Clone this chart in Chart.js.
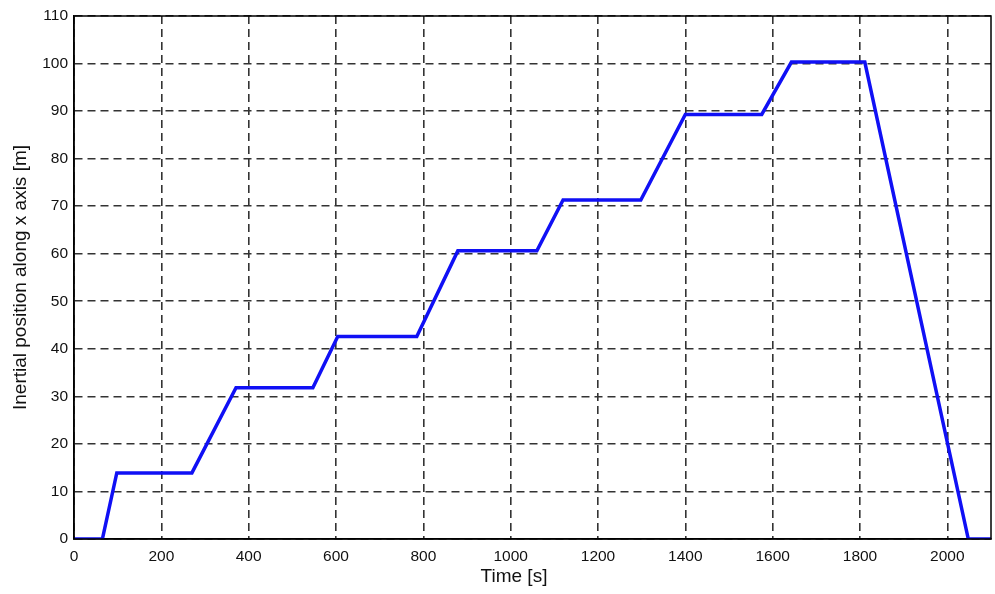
<!DOCTYPE html>
<html>
<head>
<meta charset="utf-8">
<script src="https://cdn.jsdelivr.net/npm/chart.js@4/dist/chart.umd.min.js"></script>
<style>
    html, body { margin: 0; padding: 0; background: #fff; }
    #wrap { width: 995px; height: 594px; }
</style>
</head>
<body>
<div id="wrap"><canvas id="posChart" width="995" height="594"></canvas></div>
<script>
    // values
    var timeS = [0, 65, 98, 270, 371, 547, 604, 785, 879, 1060, 1120, 1298, 1400, 1575, 1643, 1811, 2048, 2100];
    var posM  = [0, 0, 13.9, 13.9, 31.8, 31.8, 42.6, 42.6, 60.6, 60.6, 71.3, 71.3, 89.3, 89.3, 100.3, 100.3, 0, 0];
    var xTicks = [0, 200, 400, 600, 800, 1000, 1200, 1400, 1600, 1800, 2000];
    var yTicks = [0, 10, 20, 30, 40, 50, 60, 70, 80, 90, 100, 110];
    var xTitle = 'Time [s]';
    var yTitle = 'Inertial position along x axis [m]';

    var points = [];
    for (var i = 0; i < timeS.length; i++) {
        points.push({x: timeS[i], y: posM[i]});
    }

    var gridColor = '#333';
    var tickFont = { family: '"Liberation Sans", Arial, sans-serif', size: 15.5 };

    // frame round the plot area + axis titles
    var framePlugin = {
        id: 'frame',
        afterDraw: function (chart) {
            var ctx = chart.ctx;
            var a = chart.chartArea;
            ctx.save();
            ctx.strokeStyle = '#000';
            ctx.lineWidth = 1.5;
            ctx.strokeRect(a.left, a.top, a.right - a.left, a.bottom - a.top);

            ctx.fillStyle = '#111';
            ctx.font = '19px "Liberation Sans", Arial, sans-serif';
            ctx.textAlign = 'center';
            ctx.textBaseline = 'middle';
            ctx.fillText(xTitle, 514, 577);
            ctx.translate(21, (a.top + a.bottom) / 2);
            ctx.rotate(-Math.PI / 2);
            ctx.fillText(yTitle, 0, 0);
            ctx.restore();
        }
    };

    var posChart = new Chart(document.getElementById('posChart').getContext('2d'), {
        type: 'line',
        data: {
            datasets: [{
                data: points,
                borderColor: '#1010f5',
                borderWidth: 3.5,
                pointRadius: 0,
                fill: false,
                tension: 0
            }]
        },
        options: {
            responsive: false,
            animation: false,
            layout: { padding: { top: 16, right: 4, left: 0, bottom: 0 } },
            plugins: {
                legend: { display: false },
                tooltip: { enabled: false }
            },
            scales: {
                x: {
                    type: 'linear',
                    min: 0,
                    max: 2100,
                    afterBuildTicks: function (axis) {
                        axis.ticks = xTicks.map(function (v) { return {value: v}; });
                    },
                    afterFit: function (axis) { axis.height = 55; },
                    ticks: {
                        color: '#111',
                        padding: 8,
                        maxRotation: 0,
                        autoSkip: false,
                        font: tickFont,
                        callback: function (v) { return String(v); }
                    },
                    grid: { color: gridColor, lineWidth: 1.6, drawTicks: false },
                    border: { color: '#000', width: 1.5, dash: [8, 5] }
                },
                y: {
                    min: 0,
                    max: 110,
                    afterBuildTicks: function (axis) {
                        axis.ticks = yTicks.map(function (v) { return {value: v}; });
                    },
                    afterFit: function (axis) { axis.width = 74; },
                    ticks: {
                        color: '#111',
                        padding: 6,
                        autoSkip: false,
                        font: tickFont,
                        callback: function (v) { return String(v); }
                    },
                    grid: { color: gridColor, lineWidth: 1.6, drawTicks: false },
                    border: { color: '#000', width: 1.5, dash: [8, 5] }
                }
            }
        },
        plugins: [framePlugin]
    });
</script>
</body>
</html>
